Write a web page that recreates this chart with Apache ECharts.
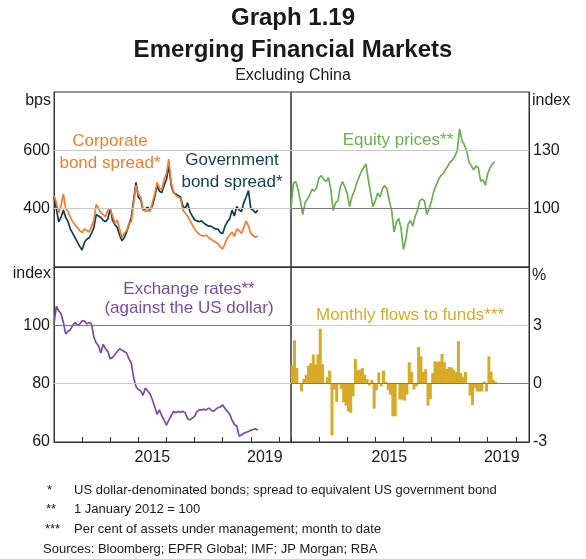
<!DOCTYPE html>
<html><head><meta charset="utf-8">
<script src="https://cdn.jsdelivr.net/npm/echarts@6/dist/echarts.min.js"></script>
<style>html,body{margin:0;padding:0;background:#fff}#c{width:586px;height:559px}</style>
</head><body><div id="c"></div>
<script>
// Monthly observations, January 2012 to April 2019
const startYear = 2012;
const corporateSpread = [445,420,385,410,450,400,390,370,355,345,335,325,
  318,330,325,320,340,360,415,400,385,380,372,395,
  400,375,350,360,330,300,315,325,350,355,420,480,
  450,440,400,390,395,390,420,450,490,470,465,500,
  520,570,490,460,445,440,435,395,385,375,360,345,
  330,320,312,308,306,310,300,295,290,285,280,268,
  262,280,300,310,320,305,330,325,315,335,358,340,
  315,308,302,306];
const governmentSpread = [440,400,355,370,395,370,355,330,315,300,285,270,
  258,285,295,300,315,335,380,375,370,360,355,365,
  402,360,345,335,310,290,300,320,345,370,430,490,
  440,430,395,400,405,395,410,440,480,460,455,480,
  500,548,480,455,450,445,440,410,400,420,390,375,
  362,358,355,358,350,345,340,340,335,330,330,318,
  315,340,355,365,395,375,408,395,390,420,440,462,
  400,395,385,395];
const equityPrices = [100,113,114,110,104,97,103,105,107,110,109,111,
  116,117,115,114,116,110,99,103,104,111,114,111,
  108,101,106,109,113,116,119,121,123,115,108,101,
  104,108,106,110,112,110,104,99,88,93,95,90,
  79,84,92,94,91,96,99,104,105,104,97,100,
  104,109,112,115,117,118,120,122,124,125,127,130,
  141,135,133,130,124,122,120,122,121,114,115,112,
  118,121,123,124];
const exchangeRates = [100.5,106.5,105,104,101,97,98,98.5,100,101,100,100.5,
  101.5,101.5,100.5,101,100.5,96,94,93,90.5,93.5,92,91,
  88.5,89,90,91,92,91.5,91,90.5,88.5,87,82,79,
  78,77.5,76,78.5,77.5,76.5,74.5,72,69.5,71,69,67.5,
  65.8,67.5,69,70.5,70,70.5,70.2,70.5,70,68,67.6,68.2,
  68.8,70.5,71,71,71.2,71,71.6,71,70.5,71.2,71.8,72,
  72.7,71.5,70.5,69.5,67.5,66,65.5,62,62.4,63,63.3,63.6,
  64,64.3,64.5,64.1];
const fundFlows = [0.98,2.23,0.8,0.03,-0.4,0.24,0.46,0.93,1.06,1.5,1.0,1.5,
  2.83,1.0,0.05,0.34,0.67,-2.66,-0.3,-0.94,-0.05,-0.27,-0.96,-1.13,
  -1.42,-1.5,-0.65,1.27,0.69,0.72,0.8,0.46,0.24,-0.1,0.2,-1.29,
  -0.34,0.58,-0.14,0.67,0.1,-0.34,-0.57,-1.68,-1.68,-0.03,-0.82,-0.82,
  -0.87,-0.57,1.1,0.6,-0.3,-0.14,1.89,1.41,0.6,0.75,-1.13,-0.79,
  0.55,1.15,1.11,1.15,1.53,1.1,0.77,0.86,0.84,0.72,0.6,2.18,
  0.55,0.34,0.6,0,-0.62,-1.1,-0.22,-0.4,-0.4,-0.4,0.1,-0.4,
  1.41,0.62,0.2,0.08];
const yearLabels = [2015, 2019];

const FONT = '"Liberation Sans", Arial, Helvetica, sans-serif';
const C_ORANGE = '#f47b2f', C_DARK = '#113f4f', C_GREEN = '#6aaf50',
      C_PURPLE = '#7b4aa2', C_GOLD = '#d9aa26', C_TEXT = '#1a1a1a';
const LIGHT = '#c8c8c8', MID = '#7a7a7a';

const monthStart = i => startYear + i / 12;
const monthMid = i => startYear + (i + 0.5) / 12;
const pts = (arr, f) => arr.map((v, i) => [f(i), v]);

const chart = echarts.init(document.getElementById('c'), null, {renderer: 'canvas'});

const grids = [
  {left: 54, top: 92, width: 237, height: 175},
  {left: 291, top: 92, width: 238, height: 175},
  {left: 54, top: 267, width: 237, height: 175},
  {left: 291, top: 267, width: 238, height: 175}
].map(g => Object.assign(g, {show: true, borderColor: '#333', borderWidth: 1, backgroundColor: 'transparent'}));

const xAxes = [0,1,2,3].map(i => ({
  type: 'value', gridIndex: i, min: 2012, max: (i % 2 ? 2020.47 : 2020.43), interval: 1,
  axisLine: {show: true, onZero: false, lineStyle: {color: '#333', width: 1}},
  axisTick: {show: i >= 2, inside: true, length: 5, lineStyle: {color: '#333'}},
  axisLabel: {show: i >= 2, customValues: yearLabels.map(y => y + 0.5),
    formatter: v => String(Math.floor(v)), fontSize: 16, color: C_TEXT, fontFamily: FONT, margin: 8},
  splitLine: {show: false}
}));

function yAx(i, pos, min, max, labels) {
  return {type: 'value', gridIndex: i, position: pos, min, max,
    axisLine: {show: true, onZero: false, lineStyle: {color: '#333'}},
    axisTick: {show: false},
    axisLabel: {customValues: labels, fontSize: 16, color: C_TEXT, fontFamily: FONT, margin: 4},
    splitLine: {show: false}};
}
const yAxes = [
  yAx(0, 'left', 200, 800, [400, 600]),
  yAx(1, 'right', 70, 160, [100, 130]),
  yAx(2, 'left', 60, 120, [60, 80, 100]),
  yAx(3, 'right', -3, 6, [-3, 0, 3])
];

function gridLines(i, lines) {
  return {type: 'line', xAxisIndex: i, yAxisIndex: i, data: [], z: 1, silent: true,
    markLine: {silent: true, symbol: 'none', animation: false, label: {show: false},
      data: lines.map(([v, c]) => ({yAxis: v, lineStyle: {color: c, width: 1.2, type: 'solid'}}))}};
}
const lineStyle = c => ({type: 'line', showSymbol: false, symbol: 'none', z: 3,
  lineStyle: {color: c, width: 1.7}, itemStyle: {color: c}, animation: false});

const series = [
  gridLines(0, [[600, LIGHT], [400, LIGHT]]),
  gridLines(1, [[130, LIGHT], [100, MID]]),
  gridLines(2, [[100, MID], [80, LIGHT]]),
  gridLines(3, [[3, LIGHT], [0, MID]]),
  Object.assign(lineStyle(C_DARK), {name: 'Government bond spread', xAxisIndex: 0, yAxisIndex: 0, data: pts(governmentSpread, monthStart)}),
  Object.assign(lineStyle(C_ORANGE), {name: 'Corporate bond spread', xAxisIndex: 0, yAxisIndex: 0, data: pts(corporateSpread, monthStart)}),
  Object.assign(lineStyle(C_GREEN), {name: 'Equity prices', xAxisIndex: 1, yAxisIndex: 1, data: pts(equityPrices, monthStart)}),
  Object.assign(lineStyle(C_PURPLE), {name: 'Exchange rates', xAxisIndex: 2, yAxisIndex: 2, data: pts(exchangeRates, monthStart)}),
  {type: 'bar', name: 'Monthly flows to funds', xAxisIndex: 3, yAxisIndex: 3, data: pts(fundFlows, monthMid),
    barWidth: 3, itemStyle: {color: C_GOLD}, z: 2, animation: false}
];

function txt(x, y, text, opts) {
  return {type: 'text', x, y, z: 10, style: Object.assign({text, fontFamily: FONT, fontSize: 16, fill: C_TEXT,
    align: 'left', verticalAlign: 'middle'}, opts || {})};
}
const graphic = [
  txt(293, 18, 'Graph 1.19', {fontSize: 24, fontWeight: 'bold', align: 'center'}),
  txt(293, 50, 'Emerging Financial Markets', {fontSize: 24, fontWeight: 'bold', align: 'center'}),
  txt(293, 76, 'Excluding China', {fontSize: 16, align: 'center'}),
  txt(51, 101, 'bps', {align: 'right'}),
  txt(532, 101, 'index'),
  txt(51, 274, 'index', {align: 'right'}),
  txt(532, 276, '%'),
  txt(110, 141, 'Corporate', {align: 'center', fill: C_ORANGE, fontSize: 17}),
  txt(110, 163, 'bond spread*', {align: 'center', fill: C_ORANGE, fontSize: 17}),
  txt(232, 160, 'Government', {align: 'center', fill: C_DARK, fontSize: 17}),
  txt(232, 182, 'bond spread*', {align: 'center', fill: C_DARK, fontSize: 17}),
  txt(398, 140, 'Equity prices**', {align: 'center', fill: C_GREEN, fontSize: 17}),
  txt(189, 289, 'Exchange rates**', {align: 'center', fill: C_PURPLE, fontSize: 17}),
  txt(189, 308, '(against the US dollar)', {align: 'center', fill: C_PURPLE, fontSize: 17}),
  txt(410, 315, 'Monthly flows to funds***', {align: 'center', fill: C_GOLD, fontSize: 17}),
  txt(47, 490, '*', {fontSize: 13}),
  txt(74, 490, 'US dollar-denominated bonds; spread to equivalent US government bond', {fontSize: 13}),
  txt(46, 509, '**', {fontSize: 13}),
  txt(74, 509, '1 January 2012 = 100', {fontSize: 13}),
  txt(45, 529, '***', {fontSize: 13}),
  txt(74, 529, 'Per cent of assets under management; month to date', {fontSize: 13}),
  txt(43, 549, 'Sources: Bloomberg; EPFR Global; IMF; JP Morgan; RBA', {fontSize: 13})
];

chart.setOption({
  animation: false,
  backgroundColor: '#fff',
  grid: grids, xAxis: xAxes, yAxis: yAxes, series, graphic
});
</script></body></html>
